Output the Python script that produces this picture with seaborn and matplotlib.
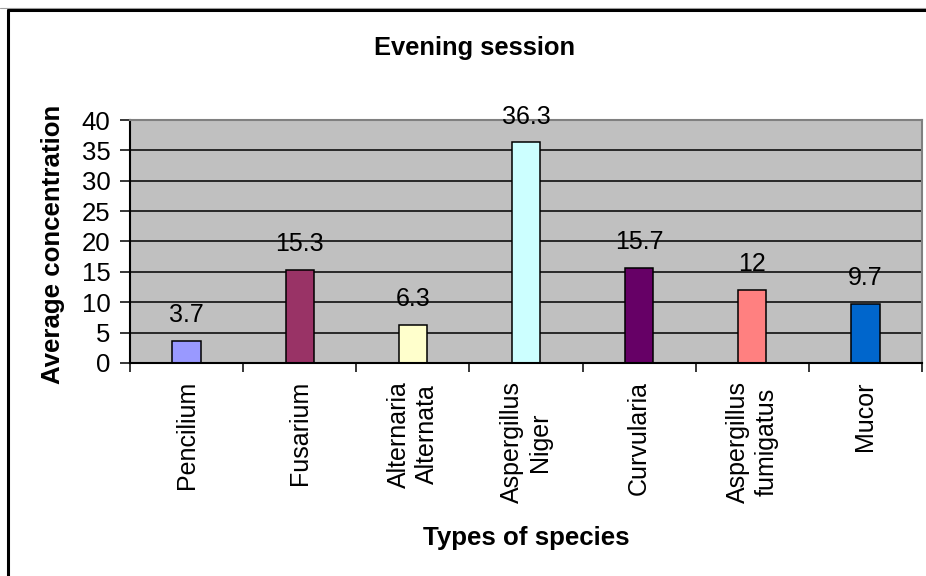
import numpy as np
import matplotlib
matplotlib.use("Agg")
import matplotlib.pyplot as plt
import seaborn as sns
from matplotlib.lines import Line2D

# Data
species = ["Pencilium", "Fusarium", "Alternaria\nAlternata", "Aspergillus\nNiger",
           "Curvularia", "Aspergillus\nfumigatus", "Mucor"]
concentration = [3.7, 15.3, 6.3, 36.3, 15.7, 12, 9.7]
bar_colors = ["#9999FF", "#993366", "#FFFFCC", "#CCFFFF", "#660066", "#FF8080", "#0066CC"]
y_ticks = [0, 5, 10, 15, 20, 25, 30, 35, 40]

sns.set_theme(style="white")
plt.rcParams["font.family"] = ["Liberation Sans", "DejaVu Sans"]
plt.rcParams["text.color"] = "black"
plt.rcParams["axes.labelcolor"] = "black"
plt.rcParams["xtick.color"] = "black"
plt.rcParams["ytick.color"] = "black"

W, H = 926, 576
fig = plt.figure(figsize=(W / 100, H / 100), dpi=100)
ax = fig.add_axes([130 / W, 1 - 363 / H, (922 - 130) / W, (363 - 120) / H])

sns.barplot(x=species, y=concentration, hue=species, palette=bar_colors, legend=False,
            saturation=1, width=0.25, edgecolor="black", linewidth=1.1, ax=ax)

for cont in ax.containers:
    ax.bar_label(cont, fmt="%g", padding=10, fontsize=18, color="black")

ax.set_facecolor("#C0C0C0")
ax.set_ylim(0, 40)
ax.set_xlim(-0.5, len(species) - 0.5)
ax.set_yticks(y_ticks)
ax.yaxis.grid(True, color="black", linewidth=1.1)
ax.set_axisbelow(True)

# tick marks between categories, labels at category centres
ax.set_xticks(np.arange(-0.5, len(species), 1))
ax.set_xticklabels([])
ax.set_xticks(np.arange(len(species)), minor=True)
ax.set_xticklabels(species, minor=True, rotation=90, fontsize=18,
                   va="top", ha="center", multialignment="center")
ax.tick_params(axis="x", which="major", direction="out", length=6.5, width=1.1,
               color="black", bottom=True)
ax.tick_params(axis="x", which="minor", length=0, pad=13, bottom=True)
ax.tick_params(axis="y", direction="out", length=7, width=1.1, color="black",
               pad=7, labelsize=18.5, left=True)

for side in ["left", "bottom"]:
    ax.spines[side].set_color("black")
    ax.spines[side].set_linewidth(1.5)
for side in ["top", "right"]:
    ax.spines[side].set_color("#808080")
    ax.spines[side].set_linewidth(1.5)

ax.set_xlabel("Types of species", fontsize=18.6, fontweight="bold", va="baseline")
ax.xaxis.set_label_coords(0.5, (363 - 545) / (363 - 120))
ax.set_ylabel("Average concentration", fontsize=18.6, fontweight="bold", va="baseline")
ax.yaxis.set_label_coords((60 - 130) / (922 - 130), 0.49)

fig.text(475 / W, 1 - 55 / H, "Evening session", fontsize=18.4, fontweight="bold",
         ha="center", va="baseline")

# chart frame (cropped at right and bottom)
fig.add_artist(Line2D([0, 1], [1 - 7.5 / H] * 2, transform=fig.transFigure,
                      color="#A0A0A0", linewidth=0.8))
fig.add_artist(Line2D([8 / W, 1], [1 - 10 / H] * 2, transform=fig.transFigure,
                      color="black", linewidth=2.2))
fig.add_artist(Line2D([8 / W] * 2, [0, 1 - 10 / H], transform=fig.transFigure,
                      color="black", linewidth=2.2))

fig.savefig("out.png", dpi=100)
